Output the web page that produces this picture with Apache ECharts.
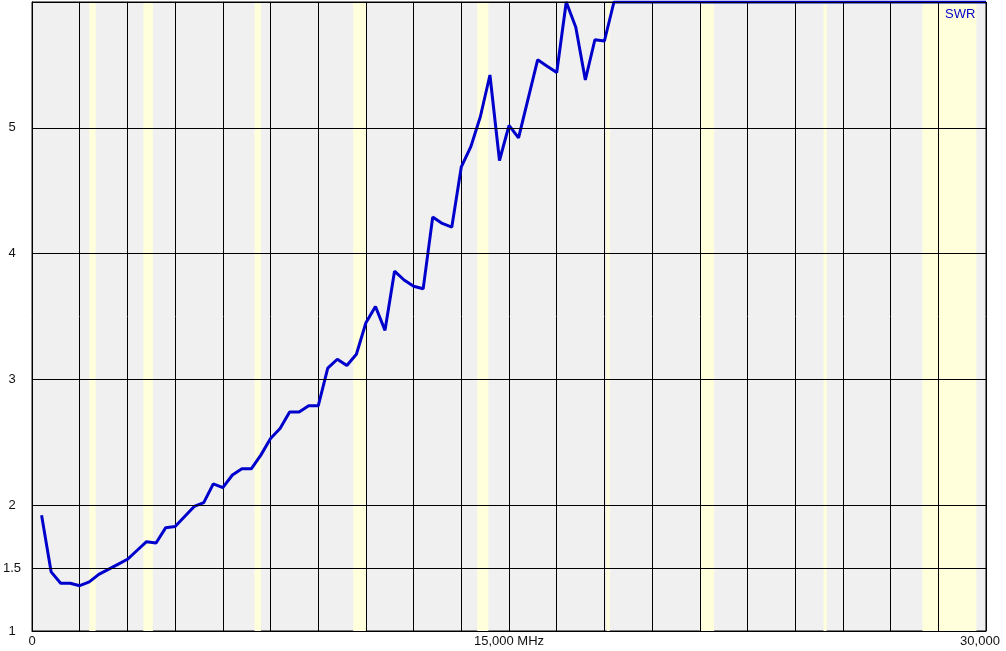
<!DOCTYPE html>
<html>
<head>
<meta charset="utf-8">
<script src="https://cdn.jsdelivr.net/npm/echarts@6/dist/echarts.min.js"></script>
<style>
html,body{margin:0;padding:0;background:#fff;}
#chart{width:1006px;height:651px;}
</style>
</head>
<body>
<div id="chart"></div>
<script>
// Frequency (kHz) of each measured point
var freqs = [300, 600, 900, 1200, 1500, 1800, 2100, 2400, 2700, 3000,
  3300, 3600, 3900, 4200, 4500, 4800, 5100, 5400, 5700, 6000,
  6300, 6600, 6900, 7200, 7500, 7800, 8100, 8400, 8700, 9000,
  9300, 9600, 9900, 10200, 10500, 10800, 11100, 11400, 11700, 12000,
  12300, 12600, 12900, 13200, 13500, 13800, 14100, 14400, 14700, 15000,
  15300, 15600, 15900, 16200, 16500, 16800, 17100, 17400, 17700, 18000,
  18300, 30000];
// SWR values (clamped at the top of the chart, 6)
var swr = [1.92, 1.47, 1.38, 1.38, 1.36, 1.39, 1.45, 1.49, 1.53, 1.57,
  1.64, 1.71, 1.70, 1.82, 1.83, 1.91, 1.99, 2.02, 2.17, 2.14,
  2.24, 2.29, 2.29, 2.40, 2.53, 2.61, 2.74, 2.74, 2.79, 2.79,
  3.09, 3.16, 3.11, 3.20, 3.45, 3.58, 3.39, 3.86, 3.79, 3.74,
  3.72, 4.29, 4.24, 4.21, 4.69, 4.85, 5.09, 5.42, 4.74, 5.02,
  4.92, 5.23, 5.54, 5.49, 5.44, 6.00, 5.80, 5.38, 5.70, 5.69,
  6.00, 6.00];
// Amateur bands shaded in the plot (kHz)
var bandStarts = [1800, 3500, 7000, 10100, 14000, 18068, 21000, 24890, 28000];
var bandEnds   = [2000, 3800, 7200, 10500, 14350, 18168, 21450, 24990, 29700];
// Axis tick labels
var yTickValues = [1, 1.5, 2, 3, 4, 5];
var yGridValues = [1.5, 2, 3, 4, 5, 6];
var xTickLabels = {0: '0', 15000: '15,000 MHz', 30000: '30,000'};
var seriesName = 'SWR';

var lineData = freqs.map(function (f, i) { return [f, swr[i]]; });
var bandAreas = bandStarts.map(function (s, i) {
  return [{xAxis: s}, {xAxis: bandEnds[i]}];
});
var hLines = yGridValues.map(function (v) { return {yAxis: v}; });

var font = 'Liberation Sans';
var chart = echarts.init(document.getElementById('chart'));
chart.setOption({
  animation: false,
  backgroundColor: '#ffffff',
  grid: {
    left: 31, top: 2, right: 20, bottom: 20,
    show: true, backgroundColor: '#f0f0f0', borderColor: '#000', borderWidth: 1,
    z: 0
  },
  xAxis: {
    type: 'value', min: 0, max: 30000, interval: 1500, z: 2,
    axisLine: {show: true, lineStyle: {color: '#000', width: 1}},
    axisTick: {show: false},
    splitLine: {show: true, lineStyle: {color: '#000', width: 1}},
    axisLabel: {
      show: true, margin: 4, color: '#111', fontFamily: font, fontSize: 13,
      showMinLabel: true, showMaxLabel: true,
      formatter: function (v) {
        if (v === 30000) return '{r|' + xTickLabels[v] + '}';
        return xTickLabels[v] !== undefined ? xTickLabels[v] : '';
      },
      rich: {r: {fontFamily: font, fontSize: 13, color: '#111', padding: [0, 12, 0, 0]}}
    }
  },
  yAxis: {
    type: 'value', min: 1, max: 6, interval: 0.5, z: 2,
    axisLine: {show: true, lineStyle: {color: '#000', width: 1}},
    axisTick: {show: false},
    splitLine: {show: false},
    axisLabel: {
      show: true, margin: 20, align: 'center', color: '#111', fontFamily: font, fontSize: 13,
      formatter: function (v) {
        for (var i = 0; i < yTickValues.length; i++) {
          if (Math.abs(yTickValues[i] - v) < 1e-6) return String(v);
        }
        return '';
      }
    }
  },
  graphic: [{
    type: 'text', left: 945, top: 8, z: 10,
    style: {text: seriesName, fill: '#0000cc', font: '13px "Liberation Sans"'}
  }],
  series: [
    {
      name: 'bands', type: 'line', data: [], z: 1, silent: true,
      markArea: {
        silent: true,
        itemStyle: {color: '#ffffdc'},
        data: bandAreas
      }
    },
    {
      name: 'hgrid', type: 'line', data: [], z: 2, silent: true,
      markLine: {
        silent: true, symbol: 'none', animation: false,
        label: {show: false},
        lineStyle: {color: '#000', width: 1, type: 'solid'},
        data: hLines
      }
    },
    {
      name: seriesName, type: 'line', data: lineData, z: 3,
      showSymbol: false, symbol: 'none', clip: true,
      lineStyle: {color: '#0000cc', width: 3},
      itemStyle: {color: '#0000cc'}
    }
  ]
});
</script>
</body>
</html>
